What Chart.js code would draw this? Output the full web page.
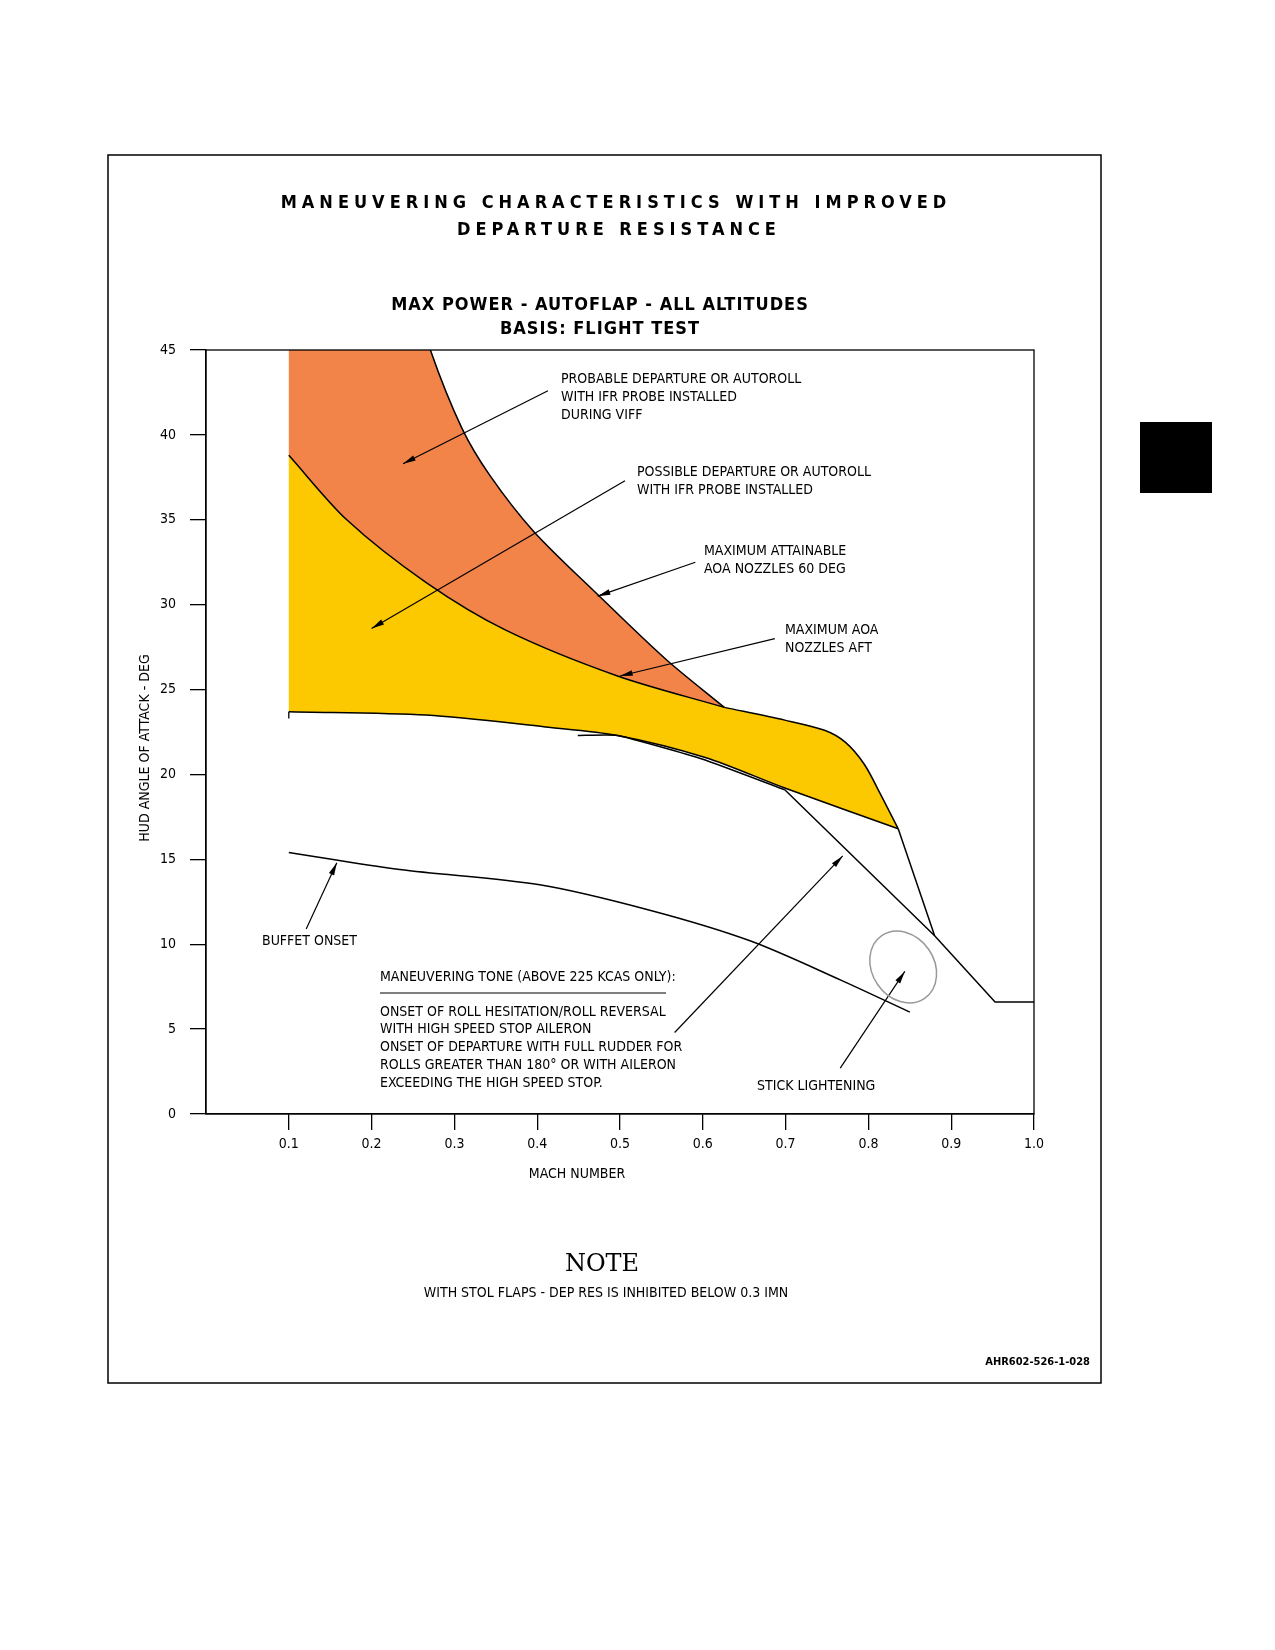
<!DOCTYPE html>
<html><head><meta charset="utf-8">
<script src="https://cdn.jsdelivr.net/npm/chart.js@4/dist/chart.umd.min.js"></script>
<style>html,body{margin:0;padding:0;background:#fff;overflow:hidden}#w{position:relative;width:1275px;height:1650px}</style>
</head><body><div id="w"><canvas id="c" width="1275" height="1650"></canvas></div>
<script>
const xTicks=[0.1,0.2,0.3,0.4,0.5,0.6,0.7,0.8,0.9,1.0];
const yTicks=[0,5,10,15,20,25,30,35,40,45];
const maxAttainM=[0.262,0.271,0.309,0.343,0.396,0.473,0.555,0.626];
const maxAttainA=[47,45,40.4,37.6,34.3,30.6,26.8,23.95];
const aftM=[0.1,0.17,0.266,0.362,0.497,0.626];
const aftA=[38.8,35.0,31.3,28.5,25.8,23.95];
const yelTopM=[0.626,0.699,0.747,0.772,0.795,0.815,0.836];
const yelTopA=[23.95,23.2,22.6,21.9,20.6,18.8,16.8];
const yelLowM=[0.1,0.266,0.41,0.497,0.603,0.699,0.836];
const yelLowA=[23.7,23.5,22.8,22.3,21.0,19.2,16.8];
const edgeM=[0.836,0.88];const edgeA=[16.8,10.5];
const rollCurveM=[0.449,0.497,0.6,0.699];
const rollCurveA=[22.3,22.3,20.9,19.1];
const rollTailM=[0.699,0.88,0.953,1.0];
const rollTailA=[19.1,10.5,6.6,6.6];
const buffetM=[0.1,0.234,0.403,0.536,0.657,0.766,0.85];
const buffetA=[15.4,14.4,13.5,12.0,10.2,7.9,6.0];
const arrows=[[0.413,42.6,0.238,38.3],[0.506,37.3,0.200,28.6],[0.591,32.5,0.473,30.5],[0.687,28.0,0.500,25.8],[0.121,10.9,0.158,14.8],[0.566,4.8,0.769,15.2],[0.766,2.7,0.844,8.4]];
const ellipseC=[0.842,8.66];
const P=(m,a)=>m.map((x,i)=>({x,y:a[i]}));
const TEN=0.3;
const orangePoly=[{x:0.1,y:47},...P(maxAttainM,maxAttainA),...P(aftM,aftA).reverse()];
const yellowPoly=[...P(aftM,aftA),...P(yelTopM,yelTopA).slice(1),...P(yelLowM,yelLowA).reverse()];
const curve=(d)=>({data:d,showLine:true,borderColor:'#000',borderWidth:1.5,pointRadius:0,fill:false,tension:TEN,order:0});
const straight=(d)=>({data:d,showLine:true,borderColor:'#000',borderWidth:1.5,pointRadius:0,fill:false,tension:0,order:0});
const F='"DejaVu Sans Condensed","Liberation Sans",Arial';
const deco={id:'deco',afterDatasetsDraw(ch){
 const c=ch.ctx,xs=ch.scales.x,ys=ch.scales.y,ca=ch.chartArea;
 c.save();c.strokeStyle='#000';c.lineWidth=1.5;c.strokeRect(108,155,993,1228);
 c.fillStyle='#000';c.fillRect(1140,422,72,71);
 c.lineWidth=1.3;c.strokeRect(ca.left,ca.top,ca.right-ca.left,ca.bottom-ca.top);
 c.beginPath();c.moveTo(xs.getPixelForValue(0.1),ys.getPixelForValue(23.7));c.lineTo(xs.getPixelForValue(0.1),ys.getPixelForValue(23.3));c.stroke();
 c.lineWidth=1.2;
 arrows.forEach(a=>{const x1=xs.getPixelForValue(a[0]),y1=ys.getPixelForValue(a[1]),x2=xs.getPixelForValue(a[2]),y2=ys.getPixelForValue(a[3]);
  c.beginPath();c.moveTo(x1,y1);c.lineTo(x2,y2);c.stroke();
  const ang=Math.atan2(y2-y1,x2-x1),L=13,W=0.22;
  c.beginPath();c.moveTo(x2,y2);c.lineTo(x2-L*Math.cos(ang-W),y2-L*Math.sin(ang-W));c.lineTo(x2-L*Math.cos(ang+W),y2-L*Math.sin(ang+W));c.closePath();c.fill();});
 c.strokeStyle='#999';c.lineWidth=1.5;c.beginPath();
 c.ellipse(xs.getPixelForValue(ellipseC[0]),ys.getPixelForValue(ellipseC[1]),31,38,-0.6,0,Math.PI*2);c.stroke();
 c.fillStyle='#000';c.textBaseline='middle';
 c.textAlign='center';c.font='bold 18px "DejaVu Sans Condensed",Arial';c.letterSpacing='5px';
 c.fillText('MANEUVERING CHARACTERISTICS WITH IMPROVED',616,203);
 c.fillText('DEPARTURE RESISTANCE',619,230);
 c.letterSpacing='1px';c.font='bold 18px '+F;
 c.fillText('MAX POWER - AUTOFLAP - ALL ALTITUDES',600,305);
 c.fillText('BASIS: FLIGHT TEST',600,329);
 c.letterSpacing='0px';
 c.font='24px "DejaVu Serif","Liberation Serif",serif';c.fillText('NOTE',602,1265);
 c.font='14px '+F;c.fillText('WITH STOL FLAPS - DEP RES IS INHIBITED BELOW 0.3 IMN',606,1293);
 c.fillText('MACH NUMBER',577,1174);
 c.textAlign='right';c.font='bold 11px "DejaVu Sans Condensed",monospace';c.fillText('AHR602-526-1-028',1090,1362);
 c.save();c.translate(145,748);c.rotate(-Math.PI/2);c.textAlign='center';c.font='14px '+F;c.fillText('HUD ANGLE OF ATTACK - DEG',0,0);c.restore();
 c.textAlign='left';c.font='14px '+F;
 const T=(arr,x,y,dy)=>arr.forEach((t,i)=>c.fillText(t,x,y+i*(dy||18)));
 T(['PROBABLE DEPARTURE OR AUTOROLL','WITH IFR PROBE INSTALLED','DURING VIFF'],561,379);
 T(['POSSIBLE DEPARTURE OR AUTOROLL','WITH IFR PROBE INSTALLED'],637,472);
 T(['MAXIMUM ATTAINABLE','AOA NOZZLES 60 DEG'],704,551);
 T(['MAXIMUM AOA','NOZZLES AFT'],785,630);
 T(['BUFFET ONSET'],262,941);
 T(['MANEUVERING TONE (ABOVE 225 KCAS ONLY):'],380,977);
 c.lineWidth=1.2;c.strokeStyle='#000';c.beginPath();c.moveTo(380,993);c.lineTo(666,993);c.stroke();
 T(['ONSET OF ROLL HESITATION/ROLL REVERSAL','WITH HIGH SPEED STOP AILERON','ONSET OF DEPARTURE WITH FULL RUDDER FOR','ROLLS GREATER THAN 180° OR WITH AILERON','EXCEEDING THE HIGH SPEED STOP.'],380,1012,17.8);
 T(['STICK LIGHTENING'],757,1086);
 c.restore();}};
new Chart(document.getElementById('c'),{type:'scatter',
 data:{datasets:[
  {data:orangePoly,showLine:true,backgroundColor:'#F2844A',borderColor:'#F2844A',borderWidth:0.5,pointRadius:0,fill:'shape',tension:TEN,order:10},
  {data:yellowPoly,showLine:true,backgroundColor:'#FCC800',borderColor:'#FCC800',borderWidth:0.5,pointRadius:0,fill:'shape',tension:TEN,order:9},
  curve(P(maxAttainM,maxAttainA)),
  curve(P(aftM,aftA)),
  curve(P(yelTopM,yelTopA)),
  curve(P(yelLowM,yelLowA)),
  straight(P(edgeM,edgeA)),
  {...curve(P(rollCurveM,rollCurveA)),tension:0.15},
  straight(P(rollTailM,rollTailA)),
  curve(P(buffetM,buffetA))
 ]},
 options:{responsive:false,animation:false,devicePixelRatio:1,
  layout:{padding:{left:136,top:350,right:241,bottom:476}},
  plugins:{legend:{display:false},tooltip:{enabled:false}},
  scales:{
   x:{type:'linear',min:0,max:1,afterFit:s=>{s.height=60},afterBuildTicks:s=>{s.ticks=xTicks.map(v=>({value:v}))},
    grid:{drawOnChartArea:false,tickLength:16,color:'#000',lineWidth:1.3},border:{color:'#000',width:1.3},
    ticks:{color:'#000',font:{family:F,size:14},padding:6,callback:v=>v.toFixed(1)}},
   y:{type:'linear',min:0,max:45,afterFit:s=>{s.width=70},afterBuildTicks:s=>{s.ticks=yTicks.map(v=>({value:v}))},
    grid:{drawOnChartArea:false,tickLength:16,color:'#000',lineWidth:1.3},border:{color:'#000',width:1.3},
    ticks:{color:'#000',font:{family:F,size:14},padding:14}}
  }},plugins:[deco]});
</script></body></html>
